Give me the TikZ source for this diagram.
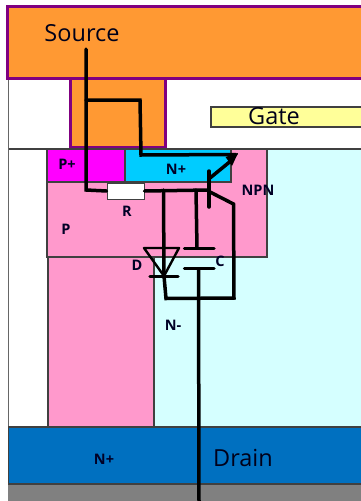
\documentclass[tikz,border=0pt]{standalone}
\usepackage{fontspec}
\setmainfont{Open Sans}
\definecolor{orangeM}{HTML}{FF9933}
\definecolor{purpleM}{HTML}{800080}
\definecolor{pinkR}{HTML}{FF99CC}
\definecolor{cyanN}{HTML}{00CCFF}
\definecolor{paleC}{HTML}{D5FFFF}
\definecolor{blueD}{HTML}{0070C0}
\definecolor{yellowG}{HTML}{FFFF99}
\definecolor{greyB}{HTML}{808080}
\definecolor{edgeG}{HTML}{404040}
\definecolor{magentaP}{HTML}{FF00FF}
\tikzset{
  x=1pt,y=-1pt,
  region/.style={draw=edgeG,line width=1.1pt},
  metal/.style={draw=purpleM,fill=orangeM,line width=3pt},
  wire/.style={draw=black,line width=3.5pt,line cap=round,line join=miter},
  biglabel/.style={font=\fontsize{23.5}{26}\selectfont,text=black!90!blue,inner sep=0pt},
  tinylabel/.style={font=\fontsize{14.5}{16}\bfseries\selectfont,text=black!85!blue,inner sep=0pt},
}
\begin{document}
\begin{tikzpicture}
\useasboundingbox (0,0) rectangle (361,501);
\clip (0,0) rectangle (361,501);
% substrate
\fill[paleC] (9,149) rectangle (365,427);
\fill[white] (9,149) rectangle (48,427);
\fill[white] (9,78) rectangle (365,149);
\draw[region,draw=greyB!80!black] (8.5,78) -- (8.5,484);
\draw[region] (8.5,149) -- (365,149);
% gate
\draw[region,fill=yellowG] (211,107) rectangle (365,127);
% metal
\draw[metal] (70.5,78) rectangle (165,147);
\draw[metal] (7.5,6) rectangle (365,78);
% p regions
\draw[region,fill=pinkR] (48,257) rectangle (154,427);
\draw[region,fill=pinkR] (47,149) rectangle (267,257);
\draw[region,fill=magentaP] (47,149) rectangle (125,182);
\draw[region,fill=cyanN] (125,149) rectangle (231,182);
% drain
\fill[greyB] (8,484) rectangle (365,501);
\draw[region,line width=1.2pt,fill=blueD] (8.5,427) rectangle (365,484);
% resistor
\node[draw=edgeG,fill=white,line width=1pt,minimum width=37pt,minimum height=16pt,inner sep=0pt] (res) at (125.5,191) {};
% circuit
\coordinate (srcTop) at (86,49);
\coordinate (srcLow) at (86,190);
\coordinate (tap) at (86,100);
\coordinate (tapR) at (140,100);
\coordinate (tapD) at (141,155);
\coordinate (emTip) at (236,154.5);
\coordinate (base) at (209,190);
\coordinate (nodeD) at (163.5,190);
\coordinate (nodeC) at (196,190);
\draw[wire] (srcTop) -- (srcLow) -- (res.west);
\draw[wire] (tap) -- (tapR) -- (tapD) -- (emTip);
\draw[wire] (res.east) -- (base);
% transistor
\draw[wire] (209,171) -- (209,207);
\draw[wire] (210,178) -- (232,160);
\fill[black] (238,153) -- (225.5,157) -- (232,166) -- cycle;
\draw[wire] (210,192) -- (233.5,204) -- (234,298) -- (166,298.5) -- (164,276);
% diode + capacitor
\draw[wire] (nodeD) -- (164,276);
\draw[wire,line width=2.4pt,line join=round] (144,248) -- (179,248) -- (164,276) -- cycle;
\draw[wire] (150,276.5) -- (178,276.5);
\draw[wire] (nodeC) -- (197,248);
\draw[wire] (184.5,248.5) -- (214,248.5);
\draw[wire] (184.5,268.5) -- (214,268.5);
\draw[wire,line cap=butt] (198.5,268.5) -- (199,501);
% labels
\node[biglabel] (lsrc) at (82,33) {Source};
\node[biglabel] (lgate) at (274,116) {Gate};
\node[biglabel] (ldrain) at (243,458) {Drain};
\node[tinylabel] (lpp) at (67,164) {P+};
\node[tinylabel] (lnp) at (176,169) {N+};
\node[tinylabel] (lnpn) at (258,190) {NPN};
\node[tinylabel] (lr) at (127,211) {R};
\node[tinylabel] (lp) at (66,229) {P};
\node[tinylabel] (ld) at (137,265) {D};
\node[tinylabel] (lc) at (220,261) {C};
\node[tinylabel] (lnm) at (173,325) {N-};
\node[tinylabel] (lnd) at (104,459) {N+};
\end{tikzpicture}
\end{document}
